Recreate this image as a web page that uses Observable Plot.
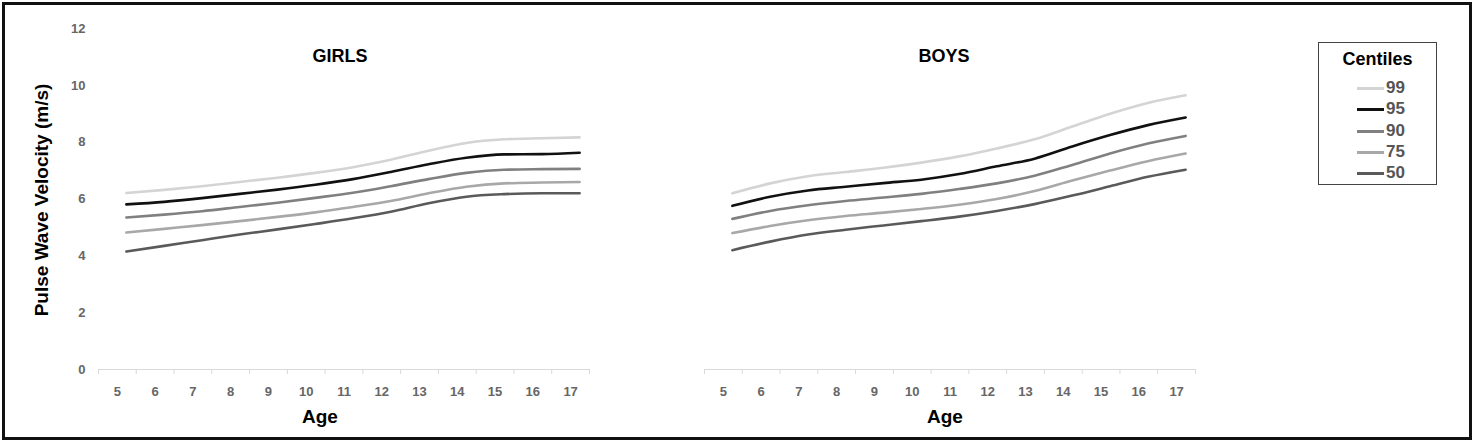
<!DOCTYPE html>
<html>
<head>
<meta charset="utf-8">
<script src="https://cdn.jsdelivr.net/npm/d3@7"></script>
<script src="https://cdn.jsdelivr.net/npm/@observablehq/plot@0.6"></script>
<style>
  body { margin: 0; background: #fff; }
  #wrap { position: relative; width: 1476px; height: 446px; overflow: hidden; background: #fff;
          font-family: "Liberation Sans", Arial, sans-serif; }
  #chart { position: absolute; left: 0; top: 0; }
  #frame { position: absolute; left: 2px; top: 2px; width: 1470px; height: 438px; border: 3px solid #111;
           box-sizing: border-box; pointer-events: none; }
  #ytitle { position: absolute; left: 42px; top: 200px; transform: translate(-50%, -50%) rotate(-90deg);
            white-space: nowrap; font-weight: bold; font-size: 19px; color: #000; }
  #legend { position: absolute; left: 1318px; top: 42px; width: 119px; height: 143px; border: 1.5px solid #444;
            box-sizing: border-box; background: #fff; }
  #legend .lt { position: absolute; left: 0; width: 100%; top: 6px; text-align: center; font-weight: bold; font-size: 18px; }
  #legend .row { position: absolute; left: 0; width: 100%; height: 20px; }
  #legend .sw { position: absolute; left: 38px; width: 27px; top: 9px; height: 3px; }
  #legend .lab { position: absolute; left: 67px; top: 0; font-size: 17px; line-height: 20px; color: #555; font-weight: bold; }
</style>
</head>
<body>
<div id="wrap">
  <div id="chart"></div>
  <div id="ytitle">Pulse Wave Velocity (m/s)</div>
  <div id="legend"><div class="lt">Centiles</div></div>
  <div id="frame"></div>
</div>
<script>
// ---- data ----
const ages = [5, 6, 7, 8, 9, 10, 11, 12, 13, 14, 15, 16, 17];
const panels = ["GIRLS", "BOYS"];
const centiles = ["99", "95", "90", "75", "50"];
const centileColors = ["#d4d4d4", "#111111", "#808080", "#a8a8a8", "#5a5a5a"];
const yTicks = [0, 2, 4, 6, 8, 10, 12];

const girls99 = [6.21, 6.32, 6.45, 6.60, 6.75, 6.92, 7.12, 7.38, 7.70, 7.97, 8.10, 8.14, 8.17];
const girls95 = [5.81, 5.90, 6.03, 6.18, 6.33, 6.50, 6.70, 6.95, 7.22, 7.45, 7.57, 7.58, 7.63];
const girls90 = [5.35, 5.45, 5.57, 5.72, 5.87, 6.04, 6.22, 6.45, 6.70, 6.92, 7.03, 7.05, 7.06];
const girls75 = [4.82, 4.95, 5.08, 5.22, 5.37, 5.53, 5.72, 5.93, 6.20, 6.43, 6.55, 6.58, 6.60];
const girls50 = [4.15, 4.35, 4.55, 4.75, 4.93, 5.12, 5.32, 5.55, 5.85, 6.08, 6.17, 6.20, 6.20];

const boys99 = [6.20, 6.55, 6.80, 6.95, 7.10, 7.28, 7.50, 7.78, 8.10, 8.55, 9.00, 9.38, 9.65];
const boys95 = [5.76, 6.08, 6.30, 6.43, 6.56, 6.68, 6.88, 7.15, 7.42, 7.85, 8.25, 8.60, 8.87];
const boys90 = [5.30, 5.58, 5.78, 5.93, 6.05, 6.18, 6.35, 6.55, 6.82, 7.20, 7.60, 7.95, 8.22];
const boys75 = [4.80, 5.05, 5.25, 5.40, 5.52, 5.65, 5.80, 6.00, 6.28, 6.65, 7.00, 7.33, 7.60];
const boys50 = [4.20, 4.50, 4.75, 4.92, 5.07, 5.22, 5.38, 5.58, 5.82, 6.12, 6.45, 6.78, 7.03];

// ---- build table ----
const series = {
  GIRLS: [girls99, girls95, girls90, girls75, girls50],
  BOYS: [boys99, boys95, boys90, boys75, boys50]
};
const rows = [];
for (const p of panels) {
  series[p].forEach((vals, i) => {
    vals.forEach((v, j) => rows.push({panel: p, centile: centiles[i], age: ages[j], pwv: v}));
  });
}
const tickBounds = d3.range(ages[0] - 0.5, ages[ages.length - 1] + 1, 1);

const tickFont = {fontSize: 13, fontWeight: "bold", fill: "#666"};
const boldText = {fontWeight: "bold", fill: "#000"};

const chart = Plot.plot({
  width: 1476,
  height: 446,
  marginTop: 28,
  marginBottom: 77,
  marginLeft: 98,
  marginRight: 281,
  style: {fontFamily: "'Liberation Sans', Arial, sans-serif", background: "transparent"},
  fx: {domain: panels, paddingInner: 0.19, paddingOuter: 0, axis: null, label: null},
  x: {domain: [tickBounds[0], tickBounds[tickBounds.length - 1]], axis: null},
  y: {domain: [0, 12], axis: null},
  color: {domain: centiles, range: centileColors},
  marks: [
    Plot.ruleY([0], {stroke: "#d9d9d9", strokeWidth: 1.2}),
    Plot.axisX(tickBounds, {tickSize: 5, tickFormat: () => "", stroke: "#d9d9d9", label: null}),
    Plot.axisX(ages, {tickSize: 0, tickPadding: 17, ...tickFont, label: null}),
    Plot.axisY(yTicks, {tickSize: 0, tickPadding: 13, ...tickFont, label: null, facetAnchor: "left"}),
    Plot.line(rows, {fx: "panel", x: "age", y: "pwv", z: "centile", stroke: "centile",
                     strokeWidth: 2.6, curve: "monotone-x", dx: 9}),
    // panel titles
    Plot.text([panels[0]], {fx: d => d, text: d => d, frameAnchor: "top", dy: 21, dx: -4, fontSize: 18, ...boldText}),
    Plot.text([panels[1]], {fx: d => d, text: d => d, frameAnchor: "top", dy: 21, dx: -6, fontSize: 18, ...boldText}),
    // x-axis titles
    Plot.text([panels[0]], {fx: d => d, text: () => "Age", frameAnchor: "bottom", dy: 53, dx: -24, fontSize: 19, ...boldText}),
    Plot.text([panels[1]], {fx: d => d, text: () => "Age", frameAnchor: "bottom", dy: 53, dx: -5, fontSize: 19, ...boldText})
  ]
});
document.getElementById("chart").appendChild(chart);

// ---- legend ----
const legend = document.getElementById("legend");
centiles.forEach((c, i) => {
  const row = document.createElement("div");
  row.className = "row";
  row.style.top = (35 + i * 21.3) + "px";
  const sw = document.createElement("div");
  sw.className = "sw";
  sw.style.background = centileColors[i];
  const lab = document.createElement("div");
  lab.className = "lab";
  lab.textContent = c;
  row.appendChild(sw);
  row.appendChild(lab);
  legend.appendChild(row);
});
</script>
</body>
</html>
